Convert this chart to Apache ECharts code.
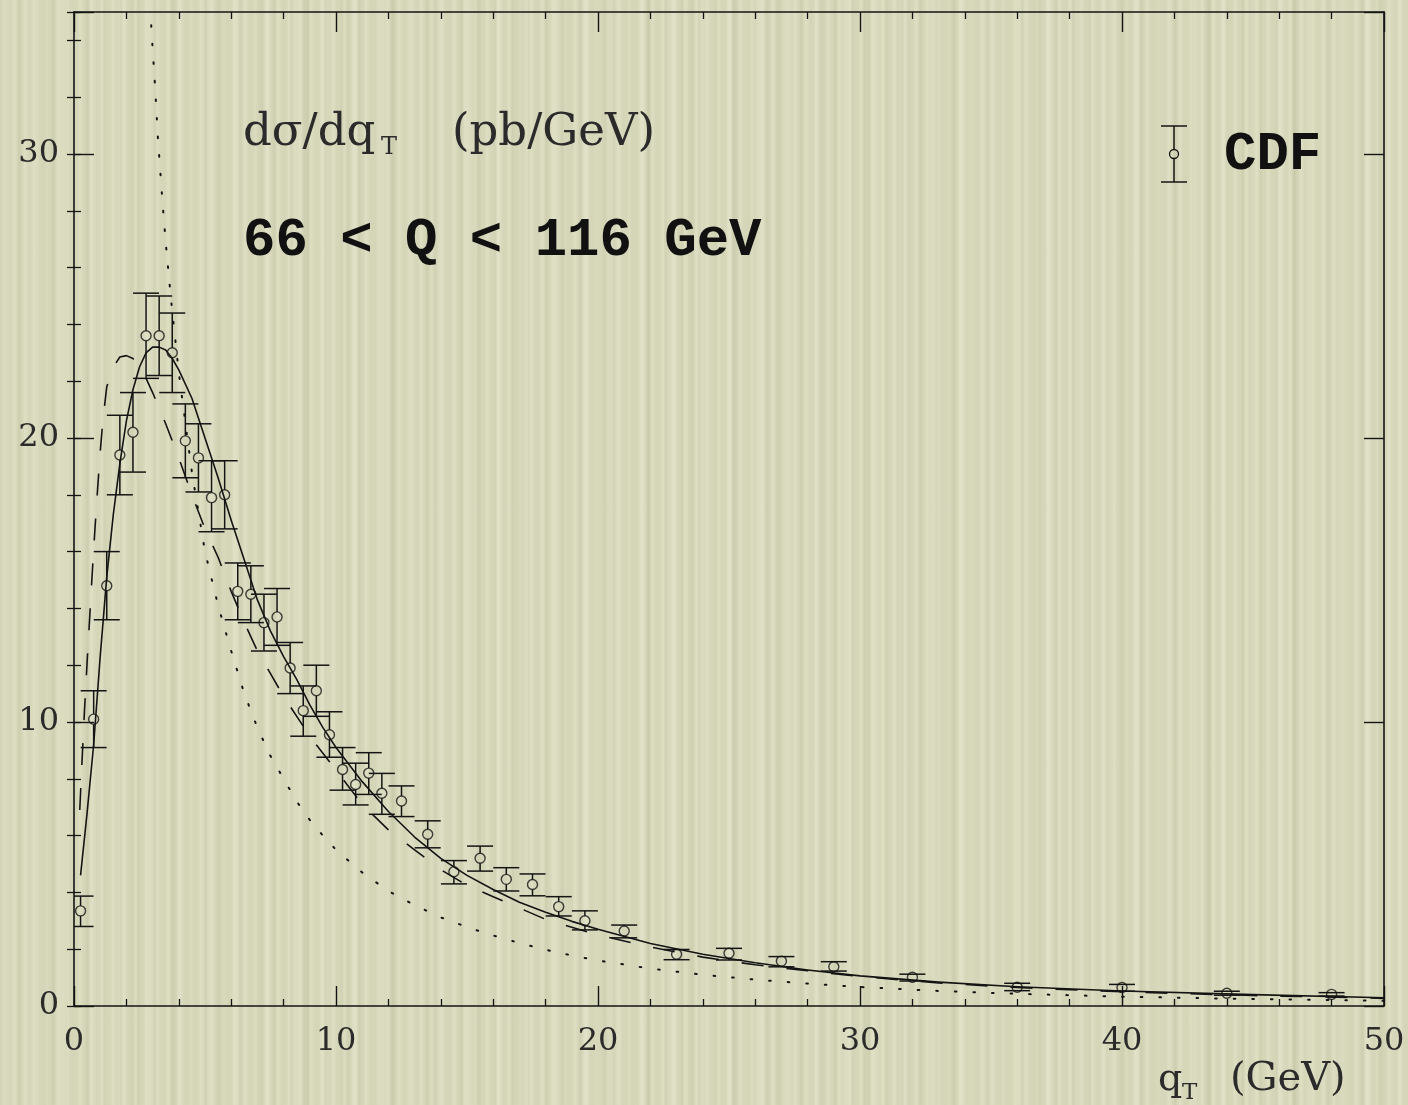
<!DOCTYPE html>
<html>
<head>
<meta charset="utf-8">
<title>CDF Z boson qT distribution</title>
<script src="https://cdn.jsdelivr.net/npm/echarts@6/dist/echarts.min.js"></script>
<style>
  html, body { margin: 0; padding: 0; }
  #chart {
    width: 1408px;
    height: 1105px;
    background-color: #d5d6b8;
    background-image:
      repeating-linear-gradient(90deg, rgba(250,250,230,0) 0px, rgba(250,250,230,0.24) 3px, rgba(250,250,230,0) 7px, rgba(0,0,0,0) 11px),
      repeating-linear-gradient(90deg, rgba(150,150,110,0) 0px, rgba(150,150,110,0.12) 2px, rgba(150,150,110,0) 5px, rgba(0,0,0,0) 17px),
      repeating-linear-gradient(90deg, rgba(255,255,240,0) 0px, rgba(255,255,240,0.16) 5px, rgba(255,255,240,0) 11px, rgba(0,0,0,0) 29px),
      repeating-linear-gradient(90deg, rgba(140,140,100,0) 0px, rgba(140,140,100,0.09) 4px, rgba(140,140,100,0) 9px, rgba(0,0,0,0) 43px);
  }
</style>
</head>
<body>
<div id="chart"></div>
<script>
// CDF measurement: bin centre (GeV), cross section (pb/GeV), error band
const cdfQt    = [0.25, 0.75, 1.25, 1.75, 2.25, 2.75, 3.25, 3.75, 4.25, 4.75,
                  5.25, 5.75, 6.25, 6.75, 7.25, 7.75, 8.25, 8.75, 9.25, 9.75,
                  10.25, 10.75, 11.25, 11.75, 12.5, 13.5, 14.5, 15.5, 16.5, 17.5,
                  18.5, 19.5, 21, 23, 25, 27, 29, 32, 36, 40, 44, 48];
const cdfXsec  = [3.35, 10.1, 14.8, 19.4, 20.2, 23.6, 23.6, 23.0, 19.9, 19.3,
                  17.9, 18.0, 14.6, 14.5, 13.5, 13.7, 11.9, 10.4, 11.1, 9.55,
                  8.33, 7.8, 8.2, 7.49, 7.22, 6.05, 4.73, 5.2, 4.46, 4.28,
                  3.5, 3.0, 2.64, 1.82, 1.86, 1.58, 1.38, 1.01, 0.66, 0.65, 0.45, 0.41];
const cdfErrLow  = [2.8, 9.1, 13.6, 18.0, 18.8, 22.1, 22.2, 21.6, 18.6, 18.1,
                    16.7, 16.8, 13.6, 13.5, 12.5, 12.7, 11.0, 9.5, 10.2, 8.76,
                    7.6, 7.08, 7.45, 6.75, 6.67, 5.57, 4.3, 4.75, 4.05, 3.88,
                    3.17, 2.68, 2.4, 1.63, 1.62, 1.38, 1.23, 0.88, 0.54, 0.52, 0.38, 0.35];
const cdfErrHigh = [3.87, 11.1, 16.0, 20.8, 21.6, 25.1, 25.0, 24.4, 21.2, 20.5,
                    19.2, 19.2, 15.6, 15.5, 14.5, 14.7, 12.8, 11.27, 12.0, 10.36,
                    9.1, 8.55, 8.92, 8.19, 7.75, 6.52, 5.12, 5.63, 4.87, 4.65,
                    3.85, 3.35, 2.85, 1.99, 2.03, 1.74, 1.56, 1.12, 0.8, 0.76, 0.52, 0.47];

// Resummed prediction (solid)
const resumQt   = [0.25, 0.5, 0.75, 1.0, 1.25, 1.5, 1.75, 2.0, 2.25, 2.5, 2.75, 3.0, 3.25, 3.5, 3.75,
                   4.0, 4.5, 5.0, 5.5, 6.0, 6.5, 7.0, 7.5, 8.0, 8.5, 9.0, 9.5, 10, 11, 12, 13, 14,
                   15, 16, 17, 18, 19, 20, 22, 24, 26, 28, 30, 33, 36, 40, 45, 50];
const resumXsec = [4.6, 6.8, 9.2, 12.3, 15.1, 17.3, 19.1, 20.6, 21.7, 22.5, 23.0, 23.2, 23.2, 23.1, 22.8,
                   22.4, 21.4, 20.0, 18.6, 17.1, 15.7, 14.3, 13.2, 12.3, 11.5, 10.6, 9.8, 9.1, 7.9, 6.85, 5.95, 5.2,
                   4.6, 4.1, 3.65, 3.3, 2.98, 2.7, 2.2, 1.82, 1.52, 1.27, 1.06, 0.84, 0.68, 0.53, 0.4, 0.29];

// Alternative prediction (dashed)
const altQt   = [0.22, 0.3, 0.4, 0.5, 0.6, 0.7, 0.8, 0.9, 1.0, 1.1, 1.25, 1.5, 1.75, 2.0, 2.25, 2.5,
                 2.75, 3.0, 3.5, 4.0, 4.5, 5.0, 5.5, 6.0, 6.5, 7.0, 7.5, 8.0, 9.0, 10, 11, 12, 13, 14,
                 15, 16, 18, 20, 22, 24, 26, 28, 30, 33, 36, 40, 45, 50];
const altXsec = [6.9, 8.5, 10.4, 12.1, 13.7, 15.3, 16.8, 18.2, 19.5, 20.6, 21.8, 22.5, 22.85, 22.9, 22.8, 22.5,
                 22.1, 21.6, 20.5, 19.3, 18.0, 16.8, 15.8, 14.6, 13.5, 12.5, 11.7, 10.9, 9.5, 8.3, 7.1, 6.2, 5.5, 4.8,
                 4.25, 3.85, 3.05, 2.5, 2.08, 1.72, 1.45, 1.24, 1.04, 0.81, 0.65, 0.5, 0.37, 0.27];

// Fixed-order prediction (dotted)
const fixedQt   = [2.85, 2.96, 3.1, 3.2, 3.37, 3.5, 3.7, 4.0, 4.5, 5.0, 5.5, 6.0, 6.5, 7.0, 7.5, 8.0,
                   8.5, 9.0, 9.5, 10, 11, 12, 13, 14, 15, 16, 17, 18, 19, 20, 22, 24, 26, 28, 30,
                   33, 36, 40, 44, 48, 50];
const fixedXsec = [36.5, 34.3, 32.3, 30.6, 28.4, 26.9, 24.9, 22.3, 18.8, 16.0, 14.1, 12.5, 11.0, 9.8, 8.8, 8.0,
                   7.2, 6.55, 6.0, 5.5, 4.7, 4.05, 3.55, 3.12, 2.78, 2.48, 2.22, 1.98, 1.78, 1.6, 1.32, 1.1, 0.93, 0.79, 0.67,
                   0.53, 0.43, 0.33, 0.26, 0.21, 0.18];

// Axis ranges and labelled ticks
const xRange = [0, 50];
const yRange = [0, 35];
const xLabelTicks = [0, 10, 20, 30, 40, 50];
const yLabelTicks = [0, 10, 20, 30];

const INK = '#141414';
const TEXT = '#2b2b2b';
const SERIF = '"DejaVu Serif"';
const pairs = (xs, ys) => xs.map((x, i) => [x, ys[i]]);
const measData = cdfQt.map((x, i) => [x, cdfXsec[i], cdfErrLow[i], cdfErrHigh[i]]);

const chart = echarts.init(document.getElementById('chart'), null, { renderer: 'canvas' });

function majorX(pos, showLabels) {
  return {
    type: 'value', position: pos, min: xRange[0], max: xRange[1], interval: 10,
    axisLine: { show: true, onZero: false, lineStyle: { color: INK, width: 1.6 } },
    axisTick: { show: true, inside: true, length: 20, lineStyle: { color: INK, width: 1.4 } },
    minorTick: { show: true, splitNumber: 5, length: 7, lineStyle: { color: INK, width: 1.3 } },
    axisLabel: {
      show: showLabels, margin: 20, color: TEXT, fontFamily: SERIF, fontSize: 32,
      formatter: v => (xLabelTicks.indexOf(v) >= 0 ? String(v) : '')
    },
    splitLine: { show: false }, minorSplitLine: { show: false }
  };
}
function majorY(pos, showLabels) {
  return {
    type: 'value', position: pos, min: yRange[0], max: yRange[1], interval: 10,
    axisLine: { show: true, onZero: false, lineStyle: { color: INK, width: 1.6 } },
    axisTick: { show: true, inside: true, length: 20, lineStyle: { color: INK, width: 1.4 } },
    axisLabel: {
      show: showLabels, margin: 15, color: TEXT, fontFamily: SERIF, fontSize: 32,
      formatter: v => (yLabelTicks.indexOf(v) >= 0 ? String(v) : '')
    },
    splitLine: { show: false }
  };
}
function minorY(pos) {
  return {
    type: 'value', position: pos, min: yRange[0], max: yRange[1], interval: 2,
    axisLine: { show: false },
    axisTick: { show: true, inside: true, length: 7, lineStyle: { color: INK, width: 1.3 } },
    axisLabel: { show: false },
    splitLine: { show: false }
  };
}

const option = {
  animation: false,
  backgroundColor: 'transparent',
  grid: { left: 74, right: 24, top: 12, bottom: 99, containLabel: false },
  xAxis: [majorX('bottom', true), majorX('top', false)],
  yAxis: [majorY('left', true), minorY('left'), majorY('right', false), minorY('right')],
  series: [
    {
      name: 'fixed order', type: 'line', xAxisIndex: 0, yAxisIndex: 0,
      data: pairs(fixedQt, fixedXsec), showSymbol: false, symbol: 'none',
      smooth: false, clip: true,
      lineStyle: { color: INK, width: 2, type: [1.6, 17], cap: 'round' }, z: 2
    },
    {
      name: 'alternative', type: 'line', xAxisIndex: 0, yAxisIndex: 0,
      data: pairs(altQt, altXsec), showSymbol: false, symbol: 'none',
      smooth: false, clip: true,
      lineStyle: { color: INK, width: 1.6, type: [22, 23] }, z: 3
    },
    {
      name: 'resummed', type: 'line', xAxisIndex: 0, yAxisIndex: 0,
      data: pairs(resumQt, resumXsec), showSymbol: false, symbol: 'none',
      smooth: false, clip: true,
      lineStyle: { color: INK, width: 1.6, join: 'round' }, z: 4
    },
    {
      name: 'CDF errors', type: 'custom', xAxisIndex: 0, yAxisIndex: 0,
      data: measData, clip: true, z: 5,
      encode: { x: 0, y: [1, 2, 3] },
      renderItem: function (params, api) {
        const x = api.value(0), y = api.value(1), lo = api.value(2), hi = api.value(3);
        const c = api.coord([x, y]);
        const t = api.coord([x, hi]);
        const b = api.coord([x, lo]);
        const hw = 13, r = 5;
        const st = { stroke: INK, lineWidth: 1.5, fill: null };
        const kids = [
          { type: 'line', shape: { x1: t[0] - hw, y1: t[1], x2: t[0] + hw, y2: t[1] }, style: st },
          { type: 'line', shape: { x1: b[0] - hw, y1: b[1], x2: b[0] + hw, y2: b[1] }, style: st }
        ];
        if (t[1] < c[1] - r) kids.push({ type: 'line', shape: { x1: c[0], y1: t[1], x2: c[0], y2: c[1] - r }, style: st });
        if (b[1] > c[1] + r) kids.push({ type: 'line', shape: { x1: c[0], y1: c[1] + r, x2: c[0], y2: b[1] }, style: st });
        return { type: 'group', children: kids };
      }
    },
    {
      name: 'CDF', type: 'scatter', xAxisIndex: 0, yAxisIndex: 0,
      data: pairs(cdfQt, cdfXsec), symbol: 'circle', symbolSize: 10, z: 6,
      itemStyle: { color: 'rgba(0,0,0,0)', borderColor: INK, borderWidth: 1.4 }
    }
  ],
  graphic: [
    // y-axis quantity
    { type: 'text', x: 243, y: 133, style: { text: 'dσ/dq', font: '45px ' + SERIF, fill: TEXT, align: 'left', verticalAlign: 'middle' } },
    { type: 'text', x: 381, y: 148, style: { text: 'T', font: '24px ' + SERIF, fill: TEXT, align: 'left', verticalAlign: 'middle' } },
    { type: 'text', x: 452, y: 133, style: { text: '(pb/GeV)', font: '45px ' + SERIF, fill: TEXT, align: 'left', verticalAlign: 'middle' } },
    // mass window
    { type: 'text', x: 243, y: 241, style: { text: '66 < Q < 116 GeV', font: 'bold 54px "Liberation Mono"', fill: '#111', align: 'left', verticalAlign: 'middle' } },
    // legend entry
    { type: 'line', shape: { x1: 1174, y1: 126, x2: 1174, y2: 149 }, style: { stroke: INK, lineWidth: 1.5 } },
    { type: 'line', shape: { x1: 1174, y1: 159, x2: 1174, y2: 182 }, style: { stroke: INK, lineWidth: 1.5 } },
    { type: 'line', shape: { x1: 1161, y1: 126, x2: 1187, y2: 126 }, style: { stroke: INK, lineWidth: 1.5 } },
    { type: 'line', shape: { x1: 1161, y1: 182, x2: 1187, y2: 182 }, style: { stroke: INK, lineWidth: 1.5 } },
    { type: 'circle', shape: { cx: 1174, cy: 154, r: 4.5 }, style: { stroke: INK, lineWidth: 1.3, fill: null } },
    { type: 'text', x: 1224, y: 155, style: { text: 'CDF', font: 'bold 54px "Liberation Mono"', fill: '#111', align: 'left', verticalAlign: 'middle' } },
    // x-axis quantity
    { type: 'text', x: 1158, y: 1080, style: { text: 'q', font: '38px ' + SERIF, fill: TEXT, align: 'left', verticalAlign: 'middle' } },
    { type: 'text', x: 1182, y: 1093, style: { text: 'T', font: '23px ' + SERIF, fill: TEXT, align: 'left', verticalAlign: 'middle' } },
    { type: 'text', x: 1230, y: 1080, style: { text: '(GeV)', font: '40px ' + SERIF, fill: TEXT, align: 'left', verticalAlign: 'middle' } }
  ]
};

chart.setOption(option);
</script>
</body>
</html>
